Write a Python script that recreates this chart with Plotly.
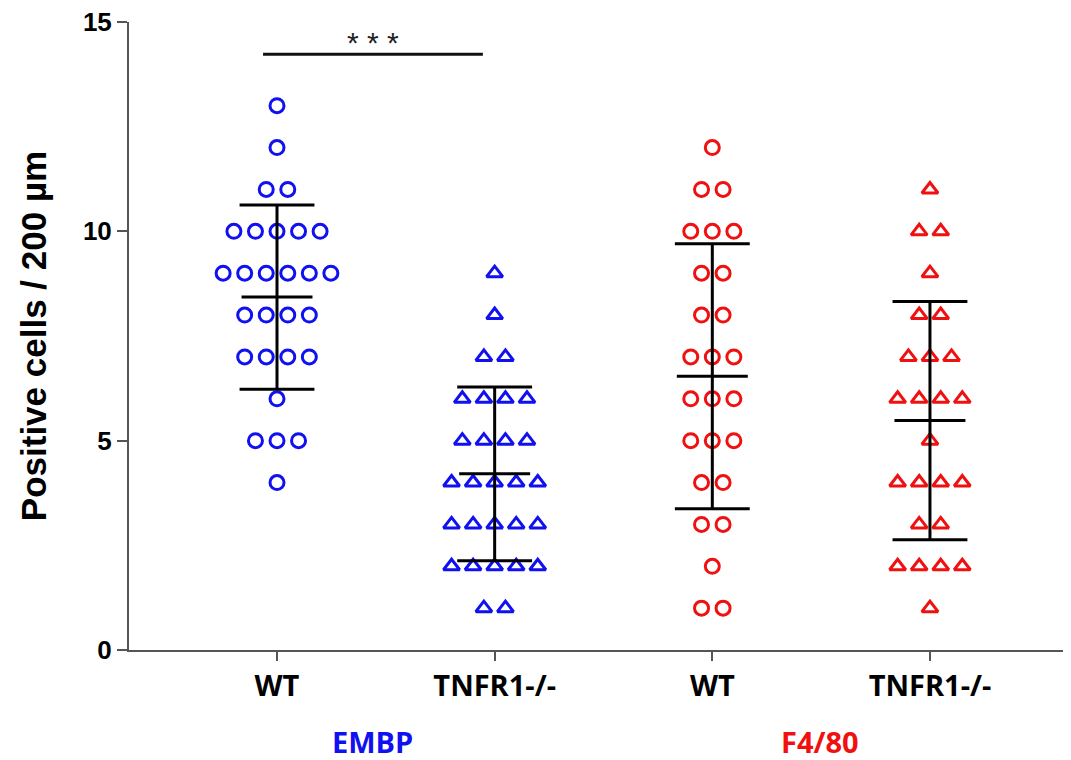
import numpy as np
import plotly.graph_objects as go

# ---------------- data ----------------
categories = ["WT", "TNFR1-/-", "WT", "TNFR1-/-"]
group_labels = ["EMBP", "F4/80"]

embp_wt = [13, 12, 11, 11, 10, 10, 10, 10, 10, 9, 9, 9, 9, 9, 9,
           8, 8, 8, 8, 7, 7, 7, 7, 6, 5, 5, 5, 4]
embp_ko = [9, 8, 7, 7, 6, 6, 6, 6, 5, 5, 5, 5, 4, 4, 4, 4, 4,
           3, 3, 3, 3, 3, 2, 2, 2, 2, 2, 1, 1]
f480_wt = [12, 11, 11, 10, 10, 10, 9, 9, 8, 8, 7, 7, 7, 6, 6, 6,
           5, 5, 5, 4, 4, 3, 3, 2, 1, 1]
f480_ko = [11, 10, 10, 9, 8, 8, 7, 7, 7, 6, 6, 6, 6, 5, 4, 4, 4, 4,
           3, 3, 2, 2, 2, 2, 1]

series = [embp_wt, embp_ko, f480_wt, f480_ko]
y_ticks = [0, 5, 10, 15]
significance = "* * *"

# ---------------- style ----------------
BLUE = "#1010f0"
RED = "#f01010"
colors = [BLUE, BLUE, RED, RED]
symbols = ["circle-open", "triangle-up-open", "circle-open", "triangle-up-open"]
spacing = 0.099
mean_hw = 0.163
cap_hw = 0.172

fig = go.Figure()

for i, vals in enumerate(series):
    vals = np.array(vals, dtype=float)
    xs, ys = [], []
    for v in sorted(set(vals), reverse=True):
        n = int((vals == v).sum())
        for k in range(n):
            xs.append(i + (k - (n - 1) / 2) * spacing)
            ys.append(v)
    fig.add_trace(go.Scatter(
        x=xs, y=ys, mode="markers",
        marker=dict(symbol=symbols[i], size=14,
                    color=colors[i], line=dict(width=3, color=colors[i])),
        showlegend=False, hoverinfo="y"))
    m = vals.mean()
    s = vals.std(ddof=1)
    lx = [i - mean_hw, i + mean_hw, None,
          i - cap_hw, i + cap_hw, None,
          i - cap_hw, i + cap_hw, None,
          i, i]
    ly = [m, m, None, m + s, m + s, None, m - s, m - s, None, m - s, m + s]
    fig.add_trace(go.Scatter(x=lx, y=ly, mode="lines",
                             line=dict(color="black", width=3),
                             showlegend=False, hoverinfo="skip"))

# significance bar
fig.add_trace(go.Scatter(x=[-0.064, 0.946], y=[14.23, 14.23], mode="lines",
                         line=dict(color="#111", width=3),
                         showlegend=False, hoverinfo="skip"))
fig.add_annotation(x=0.44, y=14.5, text=significance, showarrow=False,
                   font=dict(family="Liberation Sans, Arial", size=30, color="#222"),
                   yanchor="middle")

# group labels
fig.add_annotation(x=0.44, y=0, yref="paper", yshift=-91, text=group_labels[0],
                   showarrow=False, yanchor="middle",
                   font=dict(family="Open Sans", size=29, color=BLUE, weight="bold"))
fig.add_annotation(x=2.495, y=0, yref="paper", yshift=-91, text=group_labels[1],
                   showarrow=False, yanchor="middle",
                   font=dict(family="Open Sans", size=29, color=RED, weight="bold"))

# page body has an 8px margin: figure is placed at (8, 8)
fig.update_layout(
    width=1063, height=752,
    margin=dict(l=121, r=0, t=14, b=110),
    paper_bgcolor="white", plot_bgcolor="white",
    xaxis=dict(range=[-0.68, 3.648], tickvals=[0, 1, 2, 3], ticktext=categories,
               showgrid=False, zeroline=False, showline=True, linecolor="#555",
               linewidth=2, ticks="outside", ticklen=9, tickwidth=1.5, tickcolor="#555",
               tickfont=dict(family="Open Sans", size=29, color="black", weight="bold")),
    yaxis=dict(range=[0, 15], tickvals=y_ticks, showgrid=False, zeroline=False,
               showline=True, linecolor="#555", linewidth=2, ticks="outside",
               ticklen=10, tickwidth=1.5, tickcolor="#555",
               ticklabeloverflow="allow",
               tickfont=dict(family="Liberation Sans, Arial", size=26, color="black",
                             weight="bold"),
               title=dict(text="Positive cells / 200 µm", standoff=26,
                          font=dict(family="Liberation Sans, Arial", size=35,
                                    color="black", weight="bold"))),
)

fig.write_html("out.html")
